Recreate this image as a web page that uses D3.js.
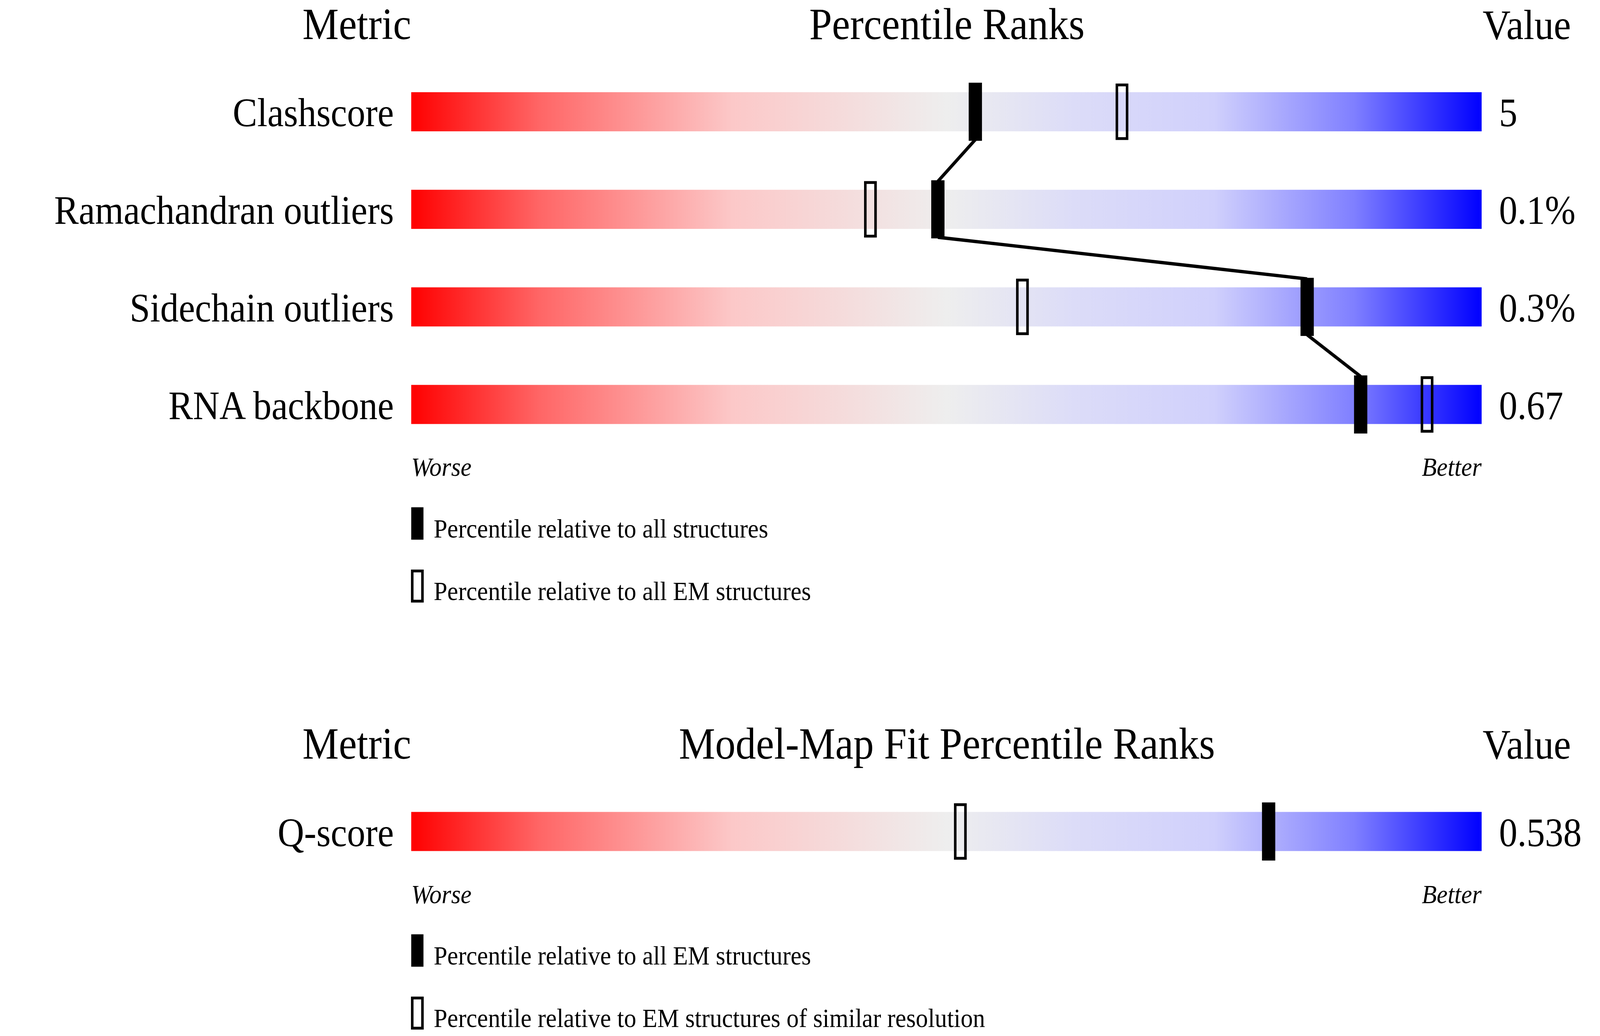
<!DOCTYPE html>
<html><head><meta charset="utf-8">
<script src="https://cdn.jsdelivr.net/npm/d3@7"></script>
<style>html,body{margin:0;padding:0;background:#fff;overflow:hidden;width:100vw;height:100vh}svg{display:block}</style>
</head><body>
<script>
const metrics1 = ["Clashscore","Ramachandran outliers","Sidechain outliers","RNA backbone"];
const values1 = ["5","0.1%","0.3%","0.67"];
const pctAll1 = [52.7,49.2,83.7,88.7];
const pctEM1 = [66.4,42.9,57.1,94.9];
const metrics2 = ["Q-score"];
const values2 = ["0.538"];
const pctAll2 = [80.1];
const pctSim2 = [51.3];
const legend1 = ["Percentile relative to all structures","Percentile relative to all EM structures"];
const legend2 = ["Percentile relative to all EM structures","Percentile relative to EM structures of similar resolution"];

const svg = d3.select("body").append("svg").style("width","100vw").style("height","100vh")
  .attr("viewBox","0 0 1568 927").attr("preserveAspectRatio","none")
  .style("font-family","'Liberation Serif','DejaVu Serif',serif");
const defs = svg.append("defs");
const g = defs.append("linearGradient").attr("id","grad");
[[0,"#ff0000"],[0.12,"#ff6666"],[0.3,"#fcc8c8"],[0.5,"#eeeeee"],[0.62,"#dcdcf8"],[0.75,"#d0d0fc"],[0.88,"#8080ff"],[1,"#0000ff"]]
  .forEach(([o,c])=>g.append("stop").attr("offset",o).attr("stop-color",c));

const x = d3.scaleLinear().domain([0,100]).range([403,1452]);

function panel(top, title, metrics, values, pA, pB, legend){
  const hdr = svg.append("g").style("font-size","40px");
  hdr.append("text").attr("x",403).attr("y",top+35).attr("text-anchor","end").text("Metric");
  hdr.append("text").attr("x",928).attr("y",top+35).attr("text-anchor","middle").text(title);
  hdr.append("text").attr("x",1453).attr("y",top+35).style("font-size","38px").text("Value");
  const bh = 35;
  metrics.forEach((m,i)=>{
    const cy = top+100+87.3*i;
    svg.append("rect").attr("x",x(0)).attr("y",cy-bh/2).attr("width",x(100)-x(0)).attr("height",bh).attr("fill","url(#grad)");
    svg.append("text").attr("x",386).attr("y",cy+13).attr("text-anchor","end").style("font-size","36px").text(m);
    svg.append("text").attr("x",1469).attr("y",cy+13).style("font-size","36px").text(values[i]);
  });
  for(let i=0;i<metrics.length-1;i++){
    const c1=top+100+87.3*i, c2=top+100+87.3*(i+1);
    svg.append("line").attr("x1",x(pA[i])).attr("y1",c1+25).attr("x2",x(pA[i+1])).attr("y2",c2-25)
      .attr("stroke","#000").attr("stroke-width",3);
  }
  metrics.forEach((m,i)=>{
    const cy = top+100+87.3*i;
    svg.append("rect").attr("x",x(pB[i])-5).attr("y",cy-24).attr("width",10).attr("height",48)
      .attr("fill","none").attr("stroke","#000").attr("stroke-width",2.5);
    svg.append("rect").attr("x",x(pA[i])-6.5).attr("y",cy-26).attr("width",13).attr("height",52).attr("fill","#000");
  });
  const ly = top+100+87.3*(metrics.length-1)+64;
  svg.append("text").attr("x",403).attr("y",ly).style("font-size","24px").style("font-style","italic").text("Worse");
  svg.append("text").attr("x",1452).attr("y",ly).attr("text-anchor","end").style("font-size","24px").style("font-style","italic").text("Better");
  legend.forEach((t,i)=>{
    const yy = ly+28+56*i;
    if(i===0) svg.append("rect").attr("x",403).attr("y",yy).attr("width",12).attr("height",29).attr("fill","#000");
    else svg.append("rect").attr("x",404).attr("y",yy+1).attr("width",10).attr("height",27).attr("fill","none").attr("stroke","#000").attr("stroke-width",2.5);
    svg.append("text").attr("x",425).attr("y",yy+27).style("font-size","24px").text(t);
  });
}
panel(0,"Percentile Ranks",metrics1,values1,pctAll1,pctEM1,legend1);
panel(644,"Model-Map Fit Percentile Ranks",metrics2,values2,pctAll2,pctSim2,legend2);
</script>
</body></html>
